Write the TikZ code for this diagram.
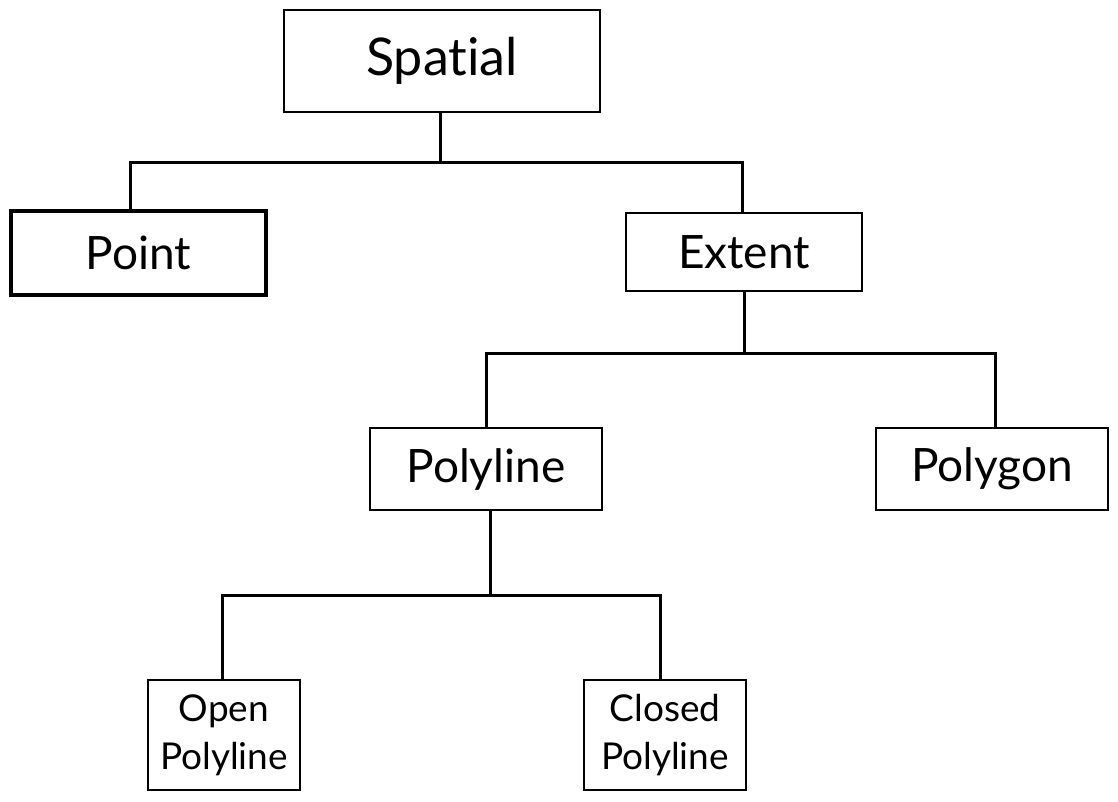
\documentclass[tikz,border=0pt]{standalone}
\usepackage{fontspec}
\setmainfont[Ligatures=NoCommon]{Lato}
\usepackage{tikz}
\usetikzlibrary{positioning}

\begin{document}
\begin{tikzpicture}[x=1pt, y=-1pt]
        % Styles
        \tikzstyle{class} = [draw, rectangle, line width=1.5pt, align=center, inner sep=0pt, font=\fontsize{46}{52}\selectfont]
        \tikzstyle{leaf} = [class, font=\fontsize{37}{48}\selectfont]
        \tikzstyle{link} = [line width=3pt]

        \useasboundingbox (0,0) rectangle (1118,801);

        % Nodes
        \node [class, minimum width=316pt, minimum height=102pt, font=\fontsize{52}{56}\selectfont] (spatial) at (442,61) {Spatial};
        \node [class, line width=4pt, minimum width=255pt, minimum height=84pt] (point) at (138.5,253) {Point};
        \node [class, minimum width=236pt, minimum height=78pt] (extent) at (744,252) {Extent};
        \node [class, minimum width=232pt, minimum height=82pt] (polyline) at (486,469) {Polyline};
        \node [class, minimum width=232pt, minimum height=82pt] (polygon) at (992,469) {Polygon};
        \node [leaf, minimum width=152pt, minimum height=110pt] (open) at (224,735) {Open\\Polyline};
        \node [leaf, minimum width=162pt, minimum height=110pt] (closed) at (665,735) {Closed\\Polyline};

        % Joints
        \coordinate (j1) at ([xshift=-2pt, yshift=-50pt]spatial.south);
        \coordinate (j2) at ([yshift=-62pt]extent.south);
        \coordinate (j3) at ([xshift=4pt, yshift=-85pt]polyline.south);

        % Lines
        \draw [link] (j1 |- spatial.south) -- (j1);
        \draw [link] ([xshift=-8pt]point.north) |- (j1) -| ([xshift=-2pt]extent.north);
        \draw [link] (extent) -- (j2);
        \draw [link] (polyline.north) |- (j2) -| ([xshift=3pt]polygon.north);
        \draw [link] (j3 |- polyline.south) -- (j3);
        \draw [link] ([xshift=-2pt]open.north) |- (j3) -| ([xshift=-5pt]closed.north);
    \end{tikzpicture}
\end{document}
